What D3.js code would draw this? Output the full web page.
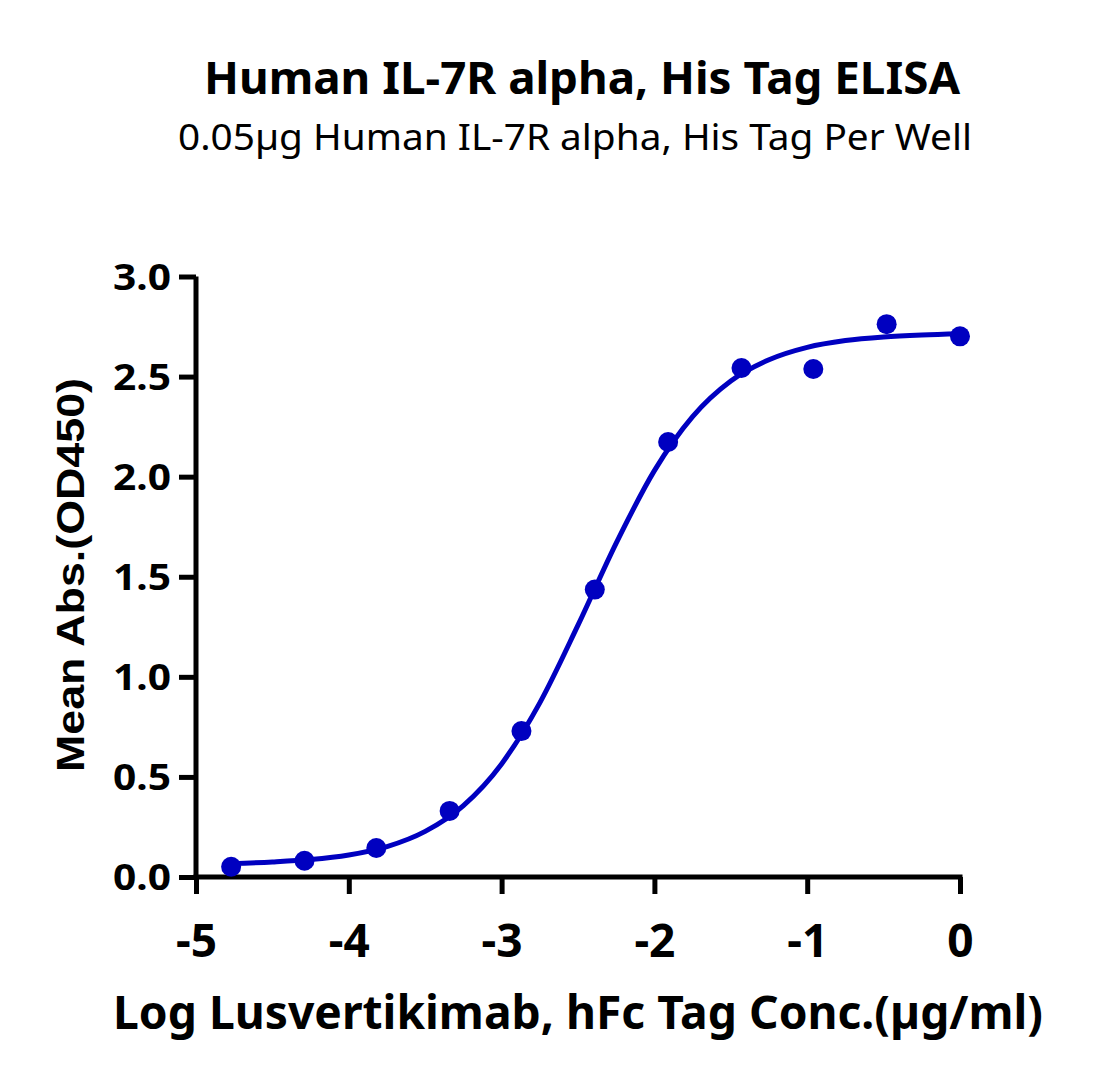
<!DOCTYPE html>
<html>
<head>
<meta charset="utf-8">
<script src="https://cdn.jsdelivr.net/npm/d3@7"></script>
<style>
html,body{margin:0;padding:0;background:#fff;}
svg{display:block;}
</style>
</head>
<body>
<svg id="chart" width="1114" height="1084"></svg>
<script>
// ---- Data ----
const logConc = [-4.77, -4.29, -3.82, -3.34, -2.87, -2.39, -1.91, -1.43, -0.96, -0.48, 0];
const meanAbs = [0.051, 0.081, 0.145, 0.33, 0.729, 1.436, 2.173, 2.543, 2.538, 2.762, 2.701];
// fitted curve, sampled along the drawn line
const curveX = [-4.77, -4.5, -4.25, -4.0, -3.75, -3.5, -3.25, -3.0, -2.75, -2.5, -2.25, -2.0, -1.75, -1.5, -1.25, -1.0, -0.75, -0.5, -0.25, 0];
const curveY = [0.067, 0.075, 0.087, 0.110, 0.152, 0.228, 0.357, 0.565, 0.870, 1.258, 1.668, 2.030, 2.300, 2.478, 2.584, 2.646, 2.680, 2.698, 2.708, 2.714];
const xTicks = [-5, -4, -3, -2, -1, 0];
const yTicks = [0, 0.5, 1.0, 1.5, 2.0, 2.5, 3.0];
const title = "Human IL-7R alpha, His Tag ELISA";
const subtitle = "0.05\u00b5g Human IL-7R alpha, His Tag Per Well";
const xLabel = "Log Lusvertikimab, hFc Tag Conc.(\u00b5g/ml)";
const yLabel = "Mean Abs.(OD450)";

const color = "#0000C0";
const svg = d3.select("#chart");
const x = d3.scaleLinear().domain([-5, 0]).range([196, 960]);
const y = d3.scaleLinear().domain([0, 3]).range([877, 276.5]);

const sans = "'Noto Sans', 'Open Sans', sans-serif";

// Titles
svg.append("text").attr("x", 582).attr("y", 94)
  .attr("text-anchor", "middle").attr("font-family", sans).attr("font-weight", 700)
  .attr("font-size", 45).attr("textLength", 756).attr("lengthAdjust", "spacingAndGlyphs")
  .text(title);
svg.append("text").attr("x", 575).attr("y", 150)
  .attr("text-anchor", "middle").attr("font-family", sans).attr("font-weight", 400)
  .attr("font-size", 37).attr("textLength", 794).attr("lengthAdjust", "spacingAndGlyphs")
  .text(subtitle);

// Axes
const xAxis = d3.axisBottom(x).tickValues(xTicks).tickSize(17).tickPadding(10)
  .tickFormat(d3.format("d"));
const gx = svg.append("g").attr("transform", "translate(0,877)").call(xAxis);
gx.select(".domain").attr("stroke", "#000").attr("stroke-width", 5)
  .attr("d", `M${x(-5)-2.5},0H${x(0)+2.5}`);
gx.selectAll(".tick line").attr("stroke", "#000").attr("stroke-width", 5);
gx.selectAll(".tick text").attr("font-family", sans).attr("font-weight", 700)
  .attr("font-size", 46).attr("fill", "#000").attr("dy", null).attr("y", 80)
  .text(d => d < 0 ? "-" + Math.abs(d) : d);

const yAxis = d3.axisLeft(y).tickValues(yTicks).tickSize(17).tickPadding(10)
  .tickFormat(d3.format(".1f"));
const gy = svg.append("g").attr("transform", "translate(196,0)").call(yAxis);
gy.select(".domain").attr("stroke", "#000").attr("stroke-width", 5)
  .attr("d", `M0,${y(3)}V${y(0)+2.5}`);
gy.selectAll(".tick line").attr("stroke", "#000").attr("stroke-width", 5);
gy.selectAll(".tick text").attr("font-family", sans).attr("font-weight", 700)
  .attr("font-size", 35).attr("fill", "#000").attr("x", -25).attr("dy", "0.36em")
  .attr("textLength", 58).attr("lengthAdjust", "spacingAndGlyphs");

// Axis labels
svg.append("text").attr("x", 578).attr("y", 1029)
  .attr("text-anchor", "middle").attr("font-family", sans).attr("font-weight", 700)
  .attr("font-size", 47).attr("textLength", 930).attr("lengthAdjust", "spacingAndGlyphs")
  .text(xLabel);
svg.append("text").attr("transform", "translate(84,575) rotate(-90)")
  .attr("text-anchor", "middle").attr("font-family", "'Liberation Sans', Arial, sans-serif")
  .attr("font-weight", 700).attr("font-size", 38).attr("textLength", 394)
  .attr("lengthAdjust", "spacingAndGlyphs")
  .text(yLabel);

// Curve
const line = d3.line().x(d => x(d[0])).y(d => y(d[1])).curve(d3.curveMonotoneX);
svg.append("path").datum(d3.zip(curveX, curveY))
  .attr("d", line).attr("fill", "none").attr("stroke", color).attr("stroke-width", 5);

// Points
svg.append("g").selectAll("circle").data(d3.zip(logConc, meanAbs)).join("circle")
  .attr("cx", d => x(d[0])).attr("cy", d => y(d[1])).attr("r", 10).attr("fill", color);
</script>
</body>
</html>
